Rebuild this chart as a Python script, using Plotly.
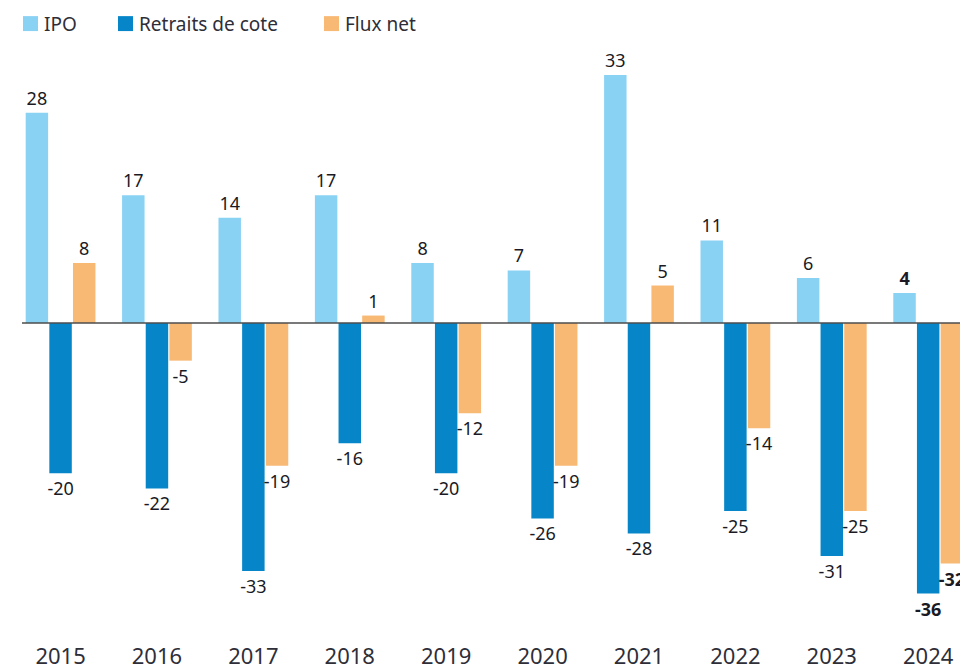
import plotly.graph_objects as go

years = ["2015", "2016", "2017", "2018", "2019", "2020", "2021", "2022", "2023", "2024"]
ipo = [28, 17, 14, 17, 8, 7, 33, 11, 6, 4]
retraits = [-20, -22, -33, -16, -20, -26, -28, -25, -31, -36]
flux = [8, -5, -19, 1, -12, -19, 5, -14, -25, -32]

names = ["IPO", "Retraits de cote", "Flux net"]
colors = ["#89D2F4", "#0686C8", "#F8B974"]

W, H = 960, 670
L, R, T, B = 22, 0, 52, 30
PW, PH = W - L - R, H - T - B


def px(x):
    return (x - L) / PW


def py(y):
    return (H - B - y) / PH


def labels(vals):
    out = []
    for i, v in enumerate(vals):
        s = str(v)
        out.append(f"<b>{s}</b>" if i == len(vals) - 1 else s)
    return out


fig = go.Figure()
for name, vals, col in zip(names, [ipo, retraits, flux], colors):
    fig.add_trace(go.Bar(
        x=years, y=vals, name=name, marker=dict(color=col, line=dict(width=0)),
        text=labels(vals), textposition="outside", constraintext="none",
        cliponaxis=False,
        textfont=dict(family="Noto Sans", size=18, color="#1a1a24"),
        showlegend=False,
    ))

fig.update_layout(
    width=W, height=H,
    margin=dict(l=L, r=R, t=T, b=B),
    paper_bgcolor="white", plot_bgcolor="white",
    barmode="group", bargap=0.264, bargroupgap=0.05,
    xaxis=dict(range=[-0.4, 9.33], showgrid=False, zeroline=False, showline=False,
               ticks="", ticklabelstandoff=3,
               tickfont=dict(family="Noto Sans", size=22, color="#2e2e38")),
    yaxis=dict(range=[-(H - B - 324) / 7.54, (324 - T) / 7.54], visible=False,
               showgrid=False, zeroline=False),
)

# zero line on top of bars
fig.add_shape(type="line", xref="paper", yref="y", x0=0, x1=1, y0=0, y1=0,
              line=dict(color="#4d4d4d", width=1.5), layer="above")

# custom legend
leg_x = [23, 118, 324]
for name, col, x0 in zip(names, colors, leg_x):
    fig.add_shape(type="rect", xref="paper", yref="paper",
                  x0=px(x0), x1=px(x0 + 15), y0=py(31), y1=py(16),
                  fillcolor=col, line=dict(width=0))
    fig.add_annotation(xref="paper", yref="paper", x=px(x0 + 19), y=py(23.5),
                       text=name, showarrow=False, xanchor="left", yanchor="middle",
                       font=dict(family="Noto Sans", size=19, color="#2e2e38"))

fig.write_html("out.html", config={"displayModeBar": False},
               post_script="document.body.style.margin='0';document.body.style.overflow='hidden';")
